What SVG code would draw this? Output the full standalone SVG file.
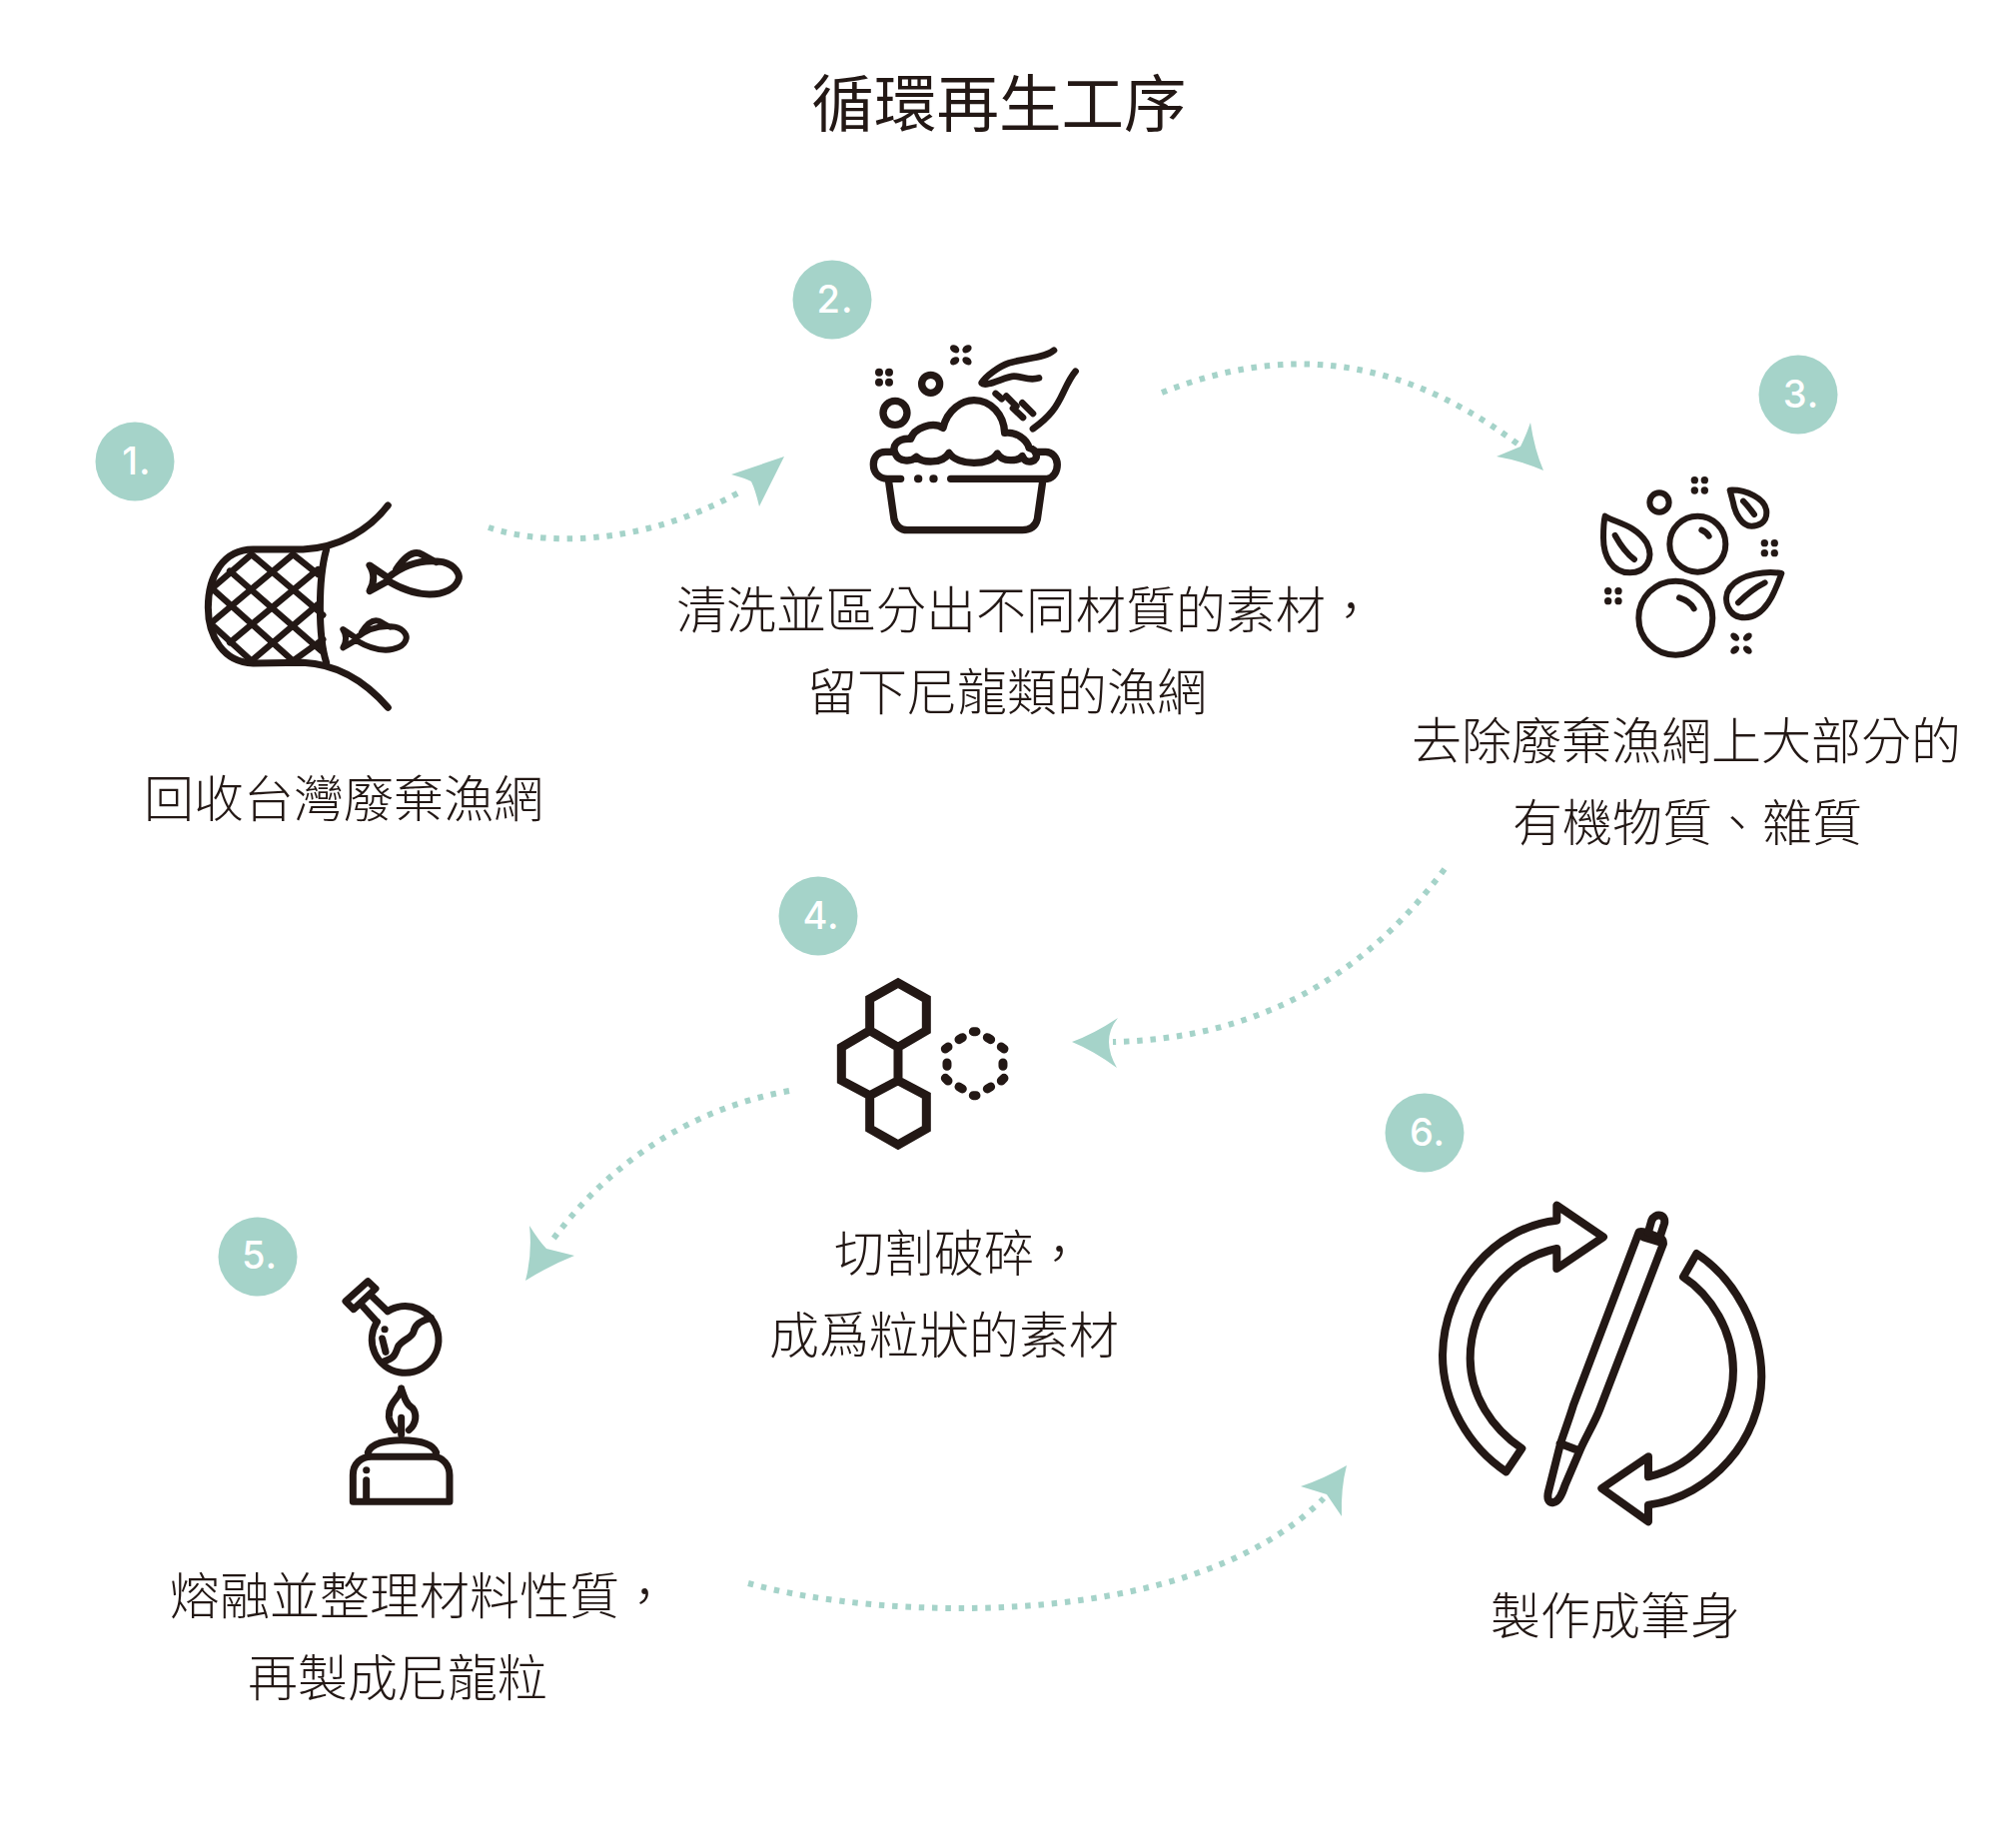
<svg xmlns="http://www.w3.org/2000/svg" width="2000" height="1850" viewBox="0 0 2000 1850">
<style>
.t{font-family:"Noto Sans CJK TC","Noto Sans CJK SC",sans-serif;font-size:50px;font-weight:300;fill:#231815}
.h{font-family:"Noto Sans CJK TC","Noto Sans CJK SC",sans-serif;font-size:62.5px;font-weight:400;fill:#231815}
.b{fill:#a5d3c9}
.n{font-family:Inter,"Liberation Sans",sans-serif;font-size:38px;font-weight:500;fill:#fff;text-anchor:middle;letter-spacing:1px}
.i{fill:none;stroke:#231815;stroke-linecap:round;stroke-linejoin:round}
.d{fill:#231815;stroke:none}
.c{fill:none;stroke:#a5d3c9;stroke-width:6;stroke-dasharray:5.5 7.8}
</style>
<rect width="2000" height="1850" fill="#fff"/>
<text id="title" class="h" x="1000" y="127" text-anchor="middle">循環再生工序</text>

<g id="connectors">
<path class="c" d="M489,528C540,545 640,550 745,490"/>
<path class="b" d="M785,457L732,475Q747,479 752,482Q756,490 760,507Z"/>
<path class="c" d="M1163,393C1260,355 1380,340 1520,445"/>
<path class="b" d="M1532,423Q1536,450 1545,471Q1522,461 1498,457Q1510,452 1522,447Q1528,435 1532,423Z"/>
<path class="c" d="M1446,870C1360,985 1250,1040 1114,1043"/>
<path class="b" d="M1073,1043Q1095,1035 1119,1019Q1110,1030 1110,1043Q1110,1055 1118,1069Q1095,1052 1073,1043Z"/>
<path class="c" d="M790,1092C690,1110 610,1165 554,1240"/>
<path class="b" d="M530,1227Q533,1255 526,1282Q550,1267 575,1257L547,1250Q540,1243 530,1227Z"/>
<path class="c" d="M749,1585C880,1622 1190,1635 1325,1500"/>
<path class="b" d="M1348,1467Q1326,1480 1302,1488L1328,1496L1343,1518Q1342,1490 1348,1467Z"/>
</g>

<g id="node1">
<circle class="b" cx="135" cy="462" r="39.5"/><text class="n" x="137" y="475">1.</text>
<g class="i" transform="translate(180 480) scale(.3333)" stroke-width="21">
<path d="M625,78C570,150 480,205 370,210L220,210C130,210 85,290 85,385C85,470 130,550 220,552L370,550C480,555 560,610 625,685"/>
<path d="M440,210C415,300 415,470 440,550"/>
<path stroke-width="19" d="M215,225L430,407M150,275L425,515M105,335L340,545M340,225L415,285M100,440L215,545M340,225L95,430M415,270L150,490M415,375L215,545M215,225L105,320M430,480L340,545"/>
<path d="M570,258L625,295C680,250 740,240 790,248C830,258 840,285 838,297C830,330 790,345 750,345C700,345 660,325 625,305L570,335C585,310 585,280 570,258ZM650,270C670,240 695,215 720,222C735,228 750,240 770,248"/>
<path d="M490,450L529,476C568,445 610,437 646,443C675,450 682,469 680,478C675,501 646,512 618,512C582,512 554,498 529,483L490,505C501,488 501,466 490,450ZM546,459C560,437 578,420 596,425C607,429 617,437 632,443" stroke-width="18"/>
</g>
<text class="t" x="144" y="818">回收台灣廢棄漁網</text>
</g>

<g id="node2">
<circle class="b" cx="833" cy="300" r="39.5"/><text class="n" x="836" y="313">2.</text>
<g class="i" transform="translate(840 320) scale(.3333)" stroke-width="22">
<path d="M160,397L140,397C115,397 103,415 103,435C103,460 120,478 145,478L185,478M335,478L625,478C645,475 655,455 655,435C655,415 640,397 620,397L590,397M148,480L165,600C170,620 185,632 205,632L550,632C575,632 590,620 595,600L612,480"/>
<path d="M232,412C215,430 180,425 170,405C155,380 175,355 215,358C225,325 280,305 312,325C325,270 370,242 405,242C455,242 495,285 497,340C530,335 565,360 570,385C595,390 600,420 580,425C560,430 555,420 550,410C540,425 490,430 475,402C455,440 355,440 330,400C310,435 250,430 232,412Z"/>
<path d="M237,478h1M283,478h1" stroke-width="24"/>
<circle cx="168" cy="280" r="36"/><circle cx="275" cy="193" r="27"/>
<path stroke-width="20" d="M645,92C620,115 560,115 510,130C480,140 440,170 428,190C440,205 500,170 525,170C550,170 570,185 600,175M710,155C680,190 670,240 640,275C620,300 600,315 582,328M470,222L488,238M502,230L532,260M522,266L552,294M550,250L582,282"/>
</g>
<g class="d" transform="translate(840 320) scale(.3333)">
<circle cx="120" cy="158" r="12"/><circle cx="150" cy="158" r="12"/><circle cx="120" cy="188" r="12"/><circle cx="150" cy="188" r="12"/>
<ellipse cx="347" cy="88" rx="15" ry="11" transform="rotate(35 347 88)"/><ellipse cx="384" cy="88" rx="15" ry="11" transform="rotate(-35 384 88)"/><ellipse cx="347" cy="124" rx="15" ry="11" transform="rotate(-35 347 124)"/><ellipse cx="384" cy="124" rx="15" ry="11" transform="rotate(35 384 124)"/>
</g>
<text class="t" x="677" y="629">清洗並區分出不同材質的素材，</text>
<text class="t" x="808" y="711">留下尼龍類的漁網</text>
</g>

<g id="node3">
<circle class="b" cx="1800" cy="395" r="39.5"/><text class="n" x="1803" y="408">3.</text>
<g class="i" transform="translate(1580 460) scale(.3333)" stroke-width="18">
<circle cx="243" cy="129" r="29"/><circle cx="358" cy="254" r="84"/><circle cx="292" cy="476" r="111"/>
<path d="M370,212Q385,218 392,230M303,415Q335,425 347,448"/>
<path d="M80,170C110,190 170,195 205,250C230,300 200,340 155,340C100,340 75,290 75,235C75,205 75,190 80,170ZM110,228C125,255 140,280 168,300"/>
<path d="M455,92C500,90 565,115 565,160C565,190 540,200 520,200C490,200 470,160 465,130ZM495,125Q510,140 528,165"/>
<path d="M610,342C570,335 490,340 455,385C430,420 450,475 500,475C560,475 590,400 610,342ZM480,430C505,405 530,385 560,370"/>
</g>
<g class="d" transform="translate(1580 460) scale(.3333)">
<circle cx="349" cy="62" r="11"/><circle cx="379" cy="62" r="11"/><circle cx="349" cy="93" r="11"/><circle cx="379" cy="93" r="11"/>
<circle cx="559" cy="251" r="11"/><circle cx="589" cy="251" r="11"/><circle cx="559" cy="281" r="11"/><circle cx="589" cy="281" r="11"/>
<circle cx="89" cy="395" r="11"/><circle cx="120" cy="395" r="11"/><circle cx="89" cy="425" r="11"/><circle cx="120" cy="425" r="11"/>
<ellipse cx="470" cy="533" rx="15" ry="10" transform="rotate(40 470 533)"/><ellipse cx="508" cy="533" rx="15" ry="10" transform="rotate(-40 508 533)"/><ellipse cx="470" cy="572" rx="15" ry="10" transform="rotate(-40 470 572)"/><ellipse cx="508" cy="572" rx="15" ry="10" transform="rotate(40 508 572)"/>
</g>
<text class="t" x="1413" y="760">去除廢棄漁網上大部分的</text>
<text class="t" x="1514" y="842">有機物質、雜質</text>
</g>

<g id="node4">
<circle class="b" cx="819" cy="917" r="39.5"/><text class="n" x="822" y="930">4.</text>
<g class="i" transform="translate(820 960) scale(.3333)" stroke-width="27" style="stroke-linejoin:miter;stroke-linecap:butt">
<path d="M237,72L322,120V215L237,265L152,215V120ZM152,215L67,265V365L152,410L237,365V265M152,410V510L237,558L322,510V410L237,365"/>
</g>
<g class="i" transform="translate(820 960) scale(.3333)" stroke-width="27">
<path d="M463,218h8M420,242L430,236M505,236L515,242M547,264L555,270M379,270L387,264M384,312V322M552,312V322M379,358L387,366M547,366L555,358M420,384L430,390M505,390L515,384M463,410h8"/>
</g>
<text class="t" x="835" y="1273">切割破碎，</text>
<text class="t" x="770" y="1355">成爲粒狀的素材</text>
</g>

<g id="node5">
<circle class="b" cx="258" cy="1258" r="39.5"/><text class="n" x="260" y="1270">5.</text>
<g class="i" transform="translate(330 1270) scale(.3333)" stroke-width="21">
<path d="M115,38L48,98L72,122L138,60ZM92,105L142,160M122,78L174,128"/>
<path d="M174,128A100,100 0 1 1 142,160"/>
<path d="M305,148C275,155 255,170 252,190C245,210 215,215 205,235C195,265 190,270 160,280"/>
<path d="M165,182h.5M158,210L168,250"/>
<path d="M215,360C215,385 175,400 178,445C180,465 190,475 197,485M215,360C225,390 232,410 248,418C262,435 262,465 238,485M215,448V498"/>
<path d="M115,552C125,525 170,515 215,515C265,515 310,525 320,552"/>
<path d="M70,700V620C70,585 95,565 125,565H310C340,565 360,590 360,620V700ZM110,605h.5M110,635V695"/>
</g>
<text class="t" x="170" y="1616">熔融並整理材料性質，</text>
<text class="t" x="248" y="1698">再製成尼龍粒</text>
</g>

<g id="node6">
<circle class="b" cx="1426" cy="1134" r="39.5"/><text class="n" x="1429" y="1147">6.</text>
<g class="i" transform="translate(1420 1190) scale(.3333)" stroke-width="24">
<path d="M263,850L310,780C220,720 155,620 155,510C155,350 270,210 415,180L415,240L555,145L415,50L415,95C230,115 75,290 72,500C72,640 150,775 263,850Z"/>
<path d="M835,195L795,265C880,320 945,430 945,545C945,700 830,835 690,865L690,805L550,900L690,1000L690,950C880,925 1030,750 1030,565C1030,420 950,270 835,195Z"/>
<path d="M662,130C650,165 570,370 465,650C450,700 430,750 425,770L390,910C385,930 390,945 405,942C420,940 430,920 440,890L485,785C500,750 530,700 545,660L735,165C735,150 725,145 718,145C700,140 680,125 662,130ZM675,145L725,160M425,765L482,787"/>
<path d="M690,130L700,95C710,72 745,75 738,105L725,145"/>
</g>
<text class="t" x="1492" y="1636">製作成筆身</text>
</g>
</svg>
